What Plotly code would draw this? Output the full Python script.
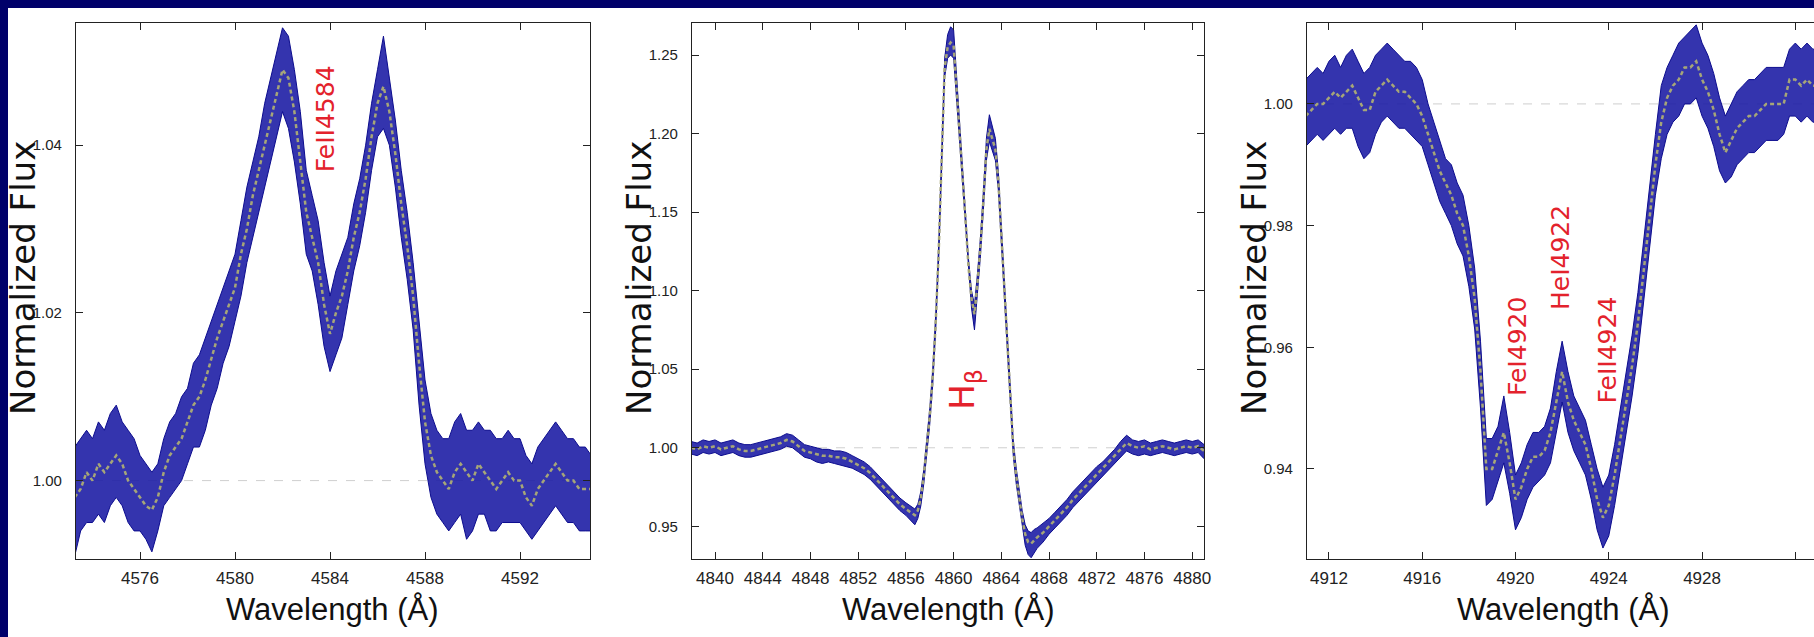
import plotly.graph_objects as go

W, H = 1814, 637

# ---------------- Panel 1 : Fe II 4584 ----------------
wl1 = [4573.25, 4573.5, 4573.75, 4574.0, 4574.25, 4574.5, 4574.75, 4575.0, 4575.25, 4575.5,
       4575.75, 4576.0, 4576.25, 4576.5, 4576.75, 4577.0, 4577.25, 4577.5, 4577.75, 4578.0,
       4578.25, 4578.5, 4578.75, 4579.0, 4579.25, 4579.5, 4579.75, 4580.0, 4580.25, 4580.5,
       4580.75, 4581.0, 4581.25, 4581.5, 4581.75, 4582.0, 4582.25, 4582.5, 4582.75, 4583.0,
       4583.25, 4583.5, 4583.75, 4584.0, 4584.25, 4584.5, 4584.75, 4585.0, 4585.25, 4585.5,
       4585.75, 4586.0, 4586.25, 4586.5, 4586.75, 4587.0, 4587.25, 4587.5, 4587.75, 4588.0,
       4588.25, 4588.5, 4588.75, 4589.0, 4589.25, 4589.5, 4589.75, 4590.0, 4590.25, 4590.5,
       4590.75, 4591.0, 4591.25, 4591.5, 4591.75, 4592.0, 4592.25, 4592.5, 4592.75, 4593.0,
       4593.25, 4593.5, 4593.75, 4594.0, 4594.25, 4594.5, 4594.75, 4595.0]
mean1 = [0.998, 0.999, 1.001, 1.000, 1.002, 1.001, 1.002, 1.003, 1.002, 1.000,
         0.999, 0.998, 0.997, 0.9965, 0.998, 1.001, 1.003, 1.004, 1.005, 1.007,
         1.009, 1.010, 1.012, 1.0145, 1.017, 1.019, 1.021, 1.023, 1.027, 1.030,
         1.034, 1.037, 1.040, 1.043, 1.046, 1.049, 1.048, 1.044, 1.038, 1.032,
         1.029, 1.026, 1.021, 1.0175, 1.020, 1.022, 1.025, 1.029, 1.032, 1.036,
         1.041, 1.045, 1.047, 1.044, 1.039, 1.033, 1.028, 1.022, 1.014, 1.007,
         1.003, 1.001, 1.000, 0.999, 1.001, 1.002, 1.001, 1.000, 1.002, 1.001,
         1.000, 0.999, 1.000, 1.001, 1.000, 1.000, 0.998, 0.997, 0.999, 1.000,
         1.001, 1.002, 1.001, 1.000, 1.000, 0.999, 0.999, 0.999]
lo1 = [0.991, 0.994, 0.995, 0.995, 0.996, 0.995, 0.997, 0.998, 0.997, 0.995,
       0.994, 0.994, 0.993, 0.9915, 0.994, 0.997, 0.998, 0.999, 1.000, 1.002,
       1.004, 1.004, 1.006, 1.009, 1.011, 1.014, 1.016, 1.019, 1.022, 1.026,
       1.029, 1.032, 1.035, 1.038, 1.041, 1.044, 1.042, 1.038, 1.033, 1.027,
       1.025, 1.021, 1.016, 1.013, 1.015, 1.017, 1.021, 1.025, 1.028, 1.032,
       1.037, 1.041, 1.042, 1.040, 1.035, 1.029, 1.024, 1.018, 1.009, 1.002,
       0.998, 0.996, 0.995, 0.994, 0.995, 0.996, 0.993, 0.994, 0.996, 0.996,
       0.994, 0.994, 0.995, 0.995, 0.995, 0.995, 0.994, 0.993, 0.994, 0.995,
       0.996, 0.997, 0.996, 0.995, 0.995, 0.994, 0.994, 0.994]
hi1 = [1.004, 1.005, 1.006, 1.005, 1.007, 1.006, 1.008, 1.009, 1.007, 1.006,
       1.005, 1.003, 1.002, 1.001, 1.002, 1.005, 1.007, 1.008, 1.010, 1.011,
       1.014, 1.015, 1.017, 1.019, 1.021, 1.023, 1.025, 1.027, 1.031, 1.035,
       1.038, 1.041, 1.045, 1.048, 1.051, 1.054, 1.053, 1.049, 1.044, 1.037,
       1.034, 1.031, 1.026, 1.022, 1.025, 1.027, 1.029, 1.033, 1.036, 1.040,
       1.045, 1.049, 1.053, 1.048, 1.043, 1.037, 1.032, 1.026, 1.019, 1.012,
       1.008, 1.006, 1.005, 1.005, 1.007, 1.008, 1.006, 1.006, 1.007, 1.006,
       1.006, 1.005, 1.005, 1.006, 1.005, 1.005, 1.003, 1.002, 1.004, 1.005,
       1.006, 1.007, 1.006, 1.005, 1.005, 1.004, 1.004, 1.003]

# ---------------- Panel 2 : H beta ----------------
wl2 = [4838.0, 4838.5, 4839.0, 4839.5, 4840.0, 4840.5, 4841.0, 4841.5, 4842.0, 4842.5,
       4843.0, 4843.5, 4844.0, 4844.5, 4845.0, 4845.5, 4846.0, 4846.5, 4847.0, 4847.5,
       4848.0, 4848.5, 4849.0, 4849.5, 4850.0, 4850.5, 4851.0, 4851.5, 4852.0, 4852.5,
       4853.0, 4853.5, 4854.0, 4854.5, 4855.0, 4855.5, 4856.0, 4856.5,
       4856.75, 4857.0, 4857.25, 4857.5, 4857.75, 4858.0, 4858.25, 4858.5, 4858.75, 4859.0,
       4859.25, 4859.5, 4859.75, 4860.0, 4860.25, 4860.5, 4860.75, 4861.0, 4861.25, 4861.5,
       4861.75, 4862.0, 4862.25, 4862.5, 4862.75, 4863.0, 4863.25, 4863.5, 4863.75, 4864.0,
       4864.25, 4864.5, 4864.75, 4865.0, 4865.25, 4865.5, 4865.75, 4866.0, 4866.25, 4866.5,
       4866.75, 4867.0,
       4867.5, 4868.0, 4868.5, 4869.0, 4869.5, 4870.0, 4870.5, 4871.0, 4871.5, 4872.0,
       4872.5, 4873.0, 4873.5, 4874.0, 4874.5, 4875.0, 4875.5, 4876.0, 4876.5, 4877.0,
       4877.5, 4878.0, 4878.5, 4879.0, 4879.5, 4880.0, 4880.5, 4881.0]
mean2 = [1.000, 0.999, 1.001, 1.000, 1.001, 0.999, 1.000, 1.001, 0.999, 0.998,
         0.998, 0.999, 1.000, 1.001, 1.002, 1.003, 1.005, 1.004, 1.001, 0.998,
         0.997, 0.996, 0.995, 0.995, 0.994, 0.994, 0.993, 0.991, 0.989, 0.987,
         0.984, 0.980, 0.976, 0.972, 0.968, 0.964, 0.961, 0.958,
         0.957, 0.960, 0.968, 0.982, 1.000, 1.020, 1.045, 1.080, 1.125, 1.185,
         1.242, 1.255, 1.258, 1.256, 1.230, 1.200, 1.173, 1.145, 1.115, 1.095,
         1.085, 1.105, 1.128, 1.158, 1.190, 1.203, 1.197, 1.190, 1.170, 1.137,
         1.106, 1.070, 1.035, 1.000, 0.982, 0.968, 0.955, 0.945, 0.940, 0.939,
         0.941, 0.943,
         0.946, 0.950, 0.954, 0.958, 0.962, 0.967, 0.971, 0.975, 0.979, 0.983,
         0.987, 0.991, 0.995, 0.999, 1.003, 1.001, 1.000, 1.001, 0.999, 1.000,
         1.001, 1.000, 0.999, 1.000, 1.001, 1.000, 1.001, 0.998]
lo2 = [0.996, 0.995, 0.997, 0.996, 0.997, 0.995, 0.996, 0.997, 0.995, 0.994,
       0.994, 0.995, 0.996, 0.997, 0.998, 0.999, 1.001, 1.000, 0.997, 0.994,
       0.993, 0.991, 0.990, 0.991, 0.990, 0.989, 0.988, 0.987, 0.985, 0.983,
       0.980, 0.976, 0.972, 0.968, 0.964, 0.960, 0.957, 0.953,
       0.951, 0.955, 0.963, 0.977, 0.995, 1.015, 1.040, 1.075, 1.120, 1.180,
       1.236, 1.248, 1.250, 1.248, 1.224, 1.195, 1.168, 1.140, 1.110, 1.089,
       1.075, 1.098, 1.122, 1.152, 1.183, 1.195, 1.189, 1.183, 1.164, 1.131,
       1.100, 1.064, 1.029, 0.995, 0.977, 0.963, 0.949, 0.938, 0.932, 0.930,
       0.933, 0.936,
       0.940, 0.945, 0.949, 0.953, 0.957, 0.962, 0.966, 0.970, 0.974, 0.978,
       0.982, 0.986, 0.990, 0.994, 0.998, 0.996, 0.995, 0.996, 0.995, 0.996,
       0.997, 0.996, 0.995, 0.996, 0.997, 0.996, 0.997, 0.993]
hi2 = [1.004, 1.003, 1.005, 1.004, 1.005, 1.003, 1.004, 1.005, 1.003, 1.002,
       1.002, 1.003, 1.004, 1.005, 1.006, 1.007, 1.009, 1.008, 1.005, 1.002,
       1.001, 1.000, 0.999, 0.999, 0.998, 0.998, 0.997, 0.995, 0.993, 0.991,
       0.988, 0.984, 0.980, 0.976, 0.972, 0.968, 0.965, 0.962,
       0.961, 0.964, 0.972, 0.986, 1.005, 1.025, 1.050, 1.085, 1.130, 1.190,
       1.248, 1.263, 1.268, 1.266, 1.237, 1.205, 1.178, 1.150, 1.120, 1.100,
       1.091, 1.111, 1.134, 1.164, 1.197, 1.212, 1.205, 1.197, 1.176, 1.143,
       1.112, 1.076, 1.041, 1.005, 0.987, 0.973, 0.960, 0.951, 0.947, 0.946,
       0.948, 0.949,
       0.952, 0.955, 0.959, 0.963, 0.967, 0.972, 0.976, 0.980, 0.984, 0.988,
       0.991, 0.995, 0.999, 1.004, 1.008, 1.005, 1.004, 1.005, 1.003, 1.004,
       1.005, 1.004, 1.003, 1.004, 1.005, 1.004, 1.005, 1.002]

# ---------------- Panel 3 : Fe I 4920 / He I 4922 / Fe II 4924 ----------------
wl3 = [4911.0, 4911.25, 4911.5, 4911.75, 4912.0, 4912.25, 4912.5, 4912.75, 4913.0, 4913.25,
       4913.5, 4913.75, 4914.0, 4914.25, 4914.5, 4914.75, 4915.0, 4915.25, 4915.5, 4915.75,
       4916.0, 4916.25, 4916.5, 4916.75, 4917.0, 4917.25, 4917.5, 4917.75, 4918.0, 4918.25,
       4918.5, 4918.75, 4919.0, 4919.25, 4919.5, 4919.75, 4920.0, 4920.25, 4920.5, 4920.75,
       4921.0, 4921.25, 4921.5, 4921.75, 4922.0, 4922.25, 4922.5, 4922.75, 4923.0, 4923.25,
       4923.5, 4923.75, 4924.0, 4924.25, 4924.5, 4924.75, 4925.0, 4925.25, 4925.5, 4925.75,
       4926.0, 4926.25, 4926.5, 4926.75, 4927.0, 4927.25, 4927.5, 4927.75, 4928.0, 4928.25,
       4928.5, 4928.75, 4929.0, 4929.25, 4929.5, 4929.75, 4930.0, 4930.25, 4930.5, 4930.75,
       4931.0, 4931.25, 4931.5, 4931.75, 4932.0, 4932.25, 4932.5, 4932.75, 4933.0]
mean3 = [0.998, 0.999, 1.000, 1.000, 1.001, 1.002, 1.001, 1.002, 1.003, 1.001,
         0.999, 0.999, 1.002, 1.003, 1.004, 1.003, 1.002, 1.002, 1.001, 1.000,
         0.998, 0.995, 0.992, 0.989, 0.987, 0.985, 0.982, 0.980, 0.975, 0.968,
         0.956, 0.940, 0.940, 0.943, 0.946, 0.941, 0.935, 0.937, 0.940, 0.942,
         0.942, 0.943, 0.946, 0.951, 0.956, 0.951, 0.948, 0.946, 0.944, 0.940,
         0.935, 0.932, 0.934, 0.939, 0.945, 0.951, 0.957, 0.964, 0.973, 0.981,
         0.990, 0.997, 1.001, 1.003, 1.004, 1.006, 1.006, 1.007, 1.004, 1.002,
         0.999, 0.995, 0.992, 0.994, 0.996, 0.997, 0.998, 0.998, 0.999, 1.000,
         1.000, 1.000, 1.000, 1.004, 1.004, 1.003, 1.004, 1.003, 1.003]
lo3 = [0.993, 0.994, 0.995, 0.994, 0.995, 0.996, 0.995, 0.996, 0.996, 0.993,
       0.991, 0.992, 0.995, 0.997, 0.998, 0.997, 0.996, 0.996, 0.995, 0.994,
       0.993, 0.990, 0.987, 0.984, 0.982, 0.980, 0.977, 0.975, 0.970, 0.963,
       0.950, 0.934, 0.935, 0.938, 0.941, 0.936, 0.930, 0.932, 0.935, 0.937,
       0.938, 0.939, 0.941, 0.946, 0.951, 0.946, 0.943, 0.941, 0.939, 0.935,
       0.930, 0.927, 0.929, 0.934, 0.940, 0.946, 0.952, 0.959, 0.968, 0.976,
       0.985, 0.991, 0.995, 0.997, 0.998, 1.000, 1.000, 1.001, 0.998, 0.996,
       0.993, 0.989, 0.987, 0.988, 0.990, 0.991, 0.992, 0.992, 0.993, 0.994,
       0.994, 0.994, 0.995, 0.998, 0.998, 0.997, 0.998, 0.997, 0.997]
hi3 = [1.004, 1.005, 1.006, 1.005, 1.007, 1.008, 1.006, 1.008, 1.009, 1.007,
       1.005, 1.006, 1.008, 1.009, 1.010, 1.009, 1.008, 1.007, 1.007, 1.006,
       1.004, 1.000, 0.997, 0.994, 0.991, 0.990, 0.987, 0.985, 0.980, 0.973,
       0.961, 0.945, 0.945, 0.947, 0.952, 0.946, 0.939, 0.941, 0.944, 0.946,
       0.946, 0.947, 0.950, 0.956, 0.961, 0.956, 0.952, 0.950, 0.948, 0.944,
       0.940, 0.937, 0.939, 0.944, 0.950, 0.956, 0.962, 0.969, 0.978, 0.986,
       0.995, 1.003, 1.006, 1.008, 1.010, 1.011, 1.012, 1.013, 1.010, 1.008,
       1.005, 1.001, 0.998, 1.000, 1.002, 1.003, 1.004, 1.004, 1.005, 1.006,
       1.006, 1.006, 1.006, 1.009, 1.010, 1.009, 1.010, 1.009, 1.009]

# line identifications: (text, wavelength, flux)
labels1 = [("FeII4584", 4583.79, 1.0431)]
labels2 = [("H<sub>β</sub>", 4860.96, 1.037)]
labels3 = [("FeI4920", 4920.08, 0.9601), ("HeI4922", 4921.90, 0.9748), ("FeII4924", 4923.93, 0.9595)]

# --------------- style ---------------
NAVY = "#00006a"
BAND = "rgba(30,30,165,0.9)"
EDGE = "#0c0c8e"
MEANC = "#a6a678"
RED = "#e3222c"
AXC = "#222222"
SANS = "Liberation Sans, Arial, sans-serif"
WIDE = "DejaVu Sans, Liberation Sans, sans-serif"

def px(v):
    return v / W

y_dom = [(H - 559) / H, (H - 23) / H]

panels = [
    dict(wl=wl1, m=mean1, lo=lo1, hi=hi1, xr=[4573.305, 4594.947], yr=[0.99065, 1.05457],
         x0=76, x1=590, xt0=4576, yt0=1.00, ydt=0.02, labels=labels1, lsize=25, mirror="ticks"),
    dict(wl=wl2, m=mean2, lo=lo2, hi=hi2, xr=[4838.07, 4880.99], yr=[0.9292, 1.2704],
         x0=692, x1=1204, xt0=4840, yt0=0.95, ydt=0.05, labels=labels2, lsize=34, mirror="ticks"),
    dict(wl=wl3, m=mean3, lo=lo3, hi=hi3, xr=[4911.06, 4932.80], yr=[0.9252, 1.0133],
         x0=1307, x1=1814, xt0=4912, yt0=0.94, ydt=0.02, labels=labels3, lsize=25, mirror=False),
]

for p in panels:
    assert len(p["wl"]) == len(p["m"]) == len(p["lo"]) == len(p["hi"]), len(p["wl"])

fig = go.Figure()
annotations = []
shapes = []

for i, p in enumerate(panels, start=1):
    xa = "x" if i == 1 else f"x{i}"
    ya = "y" if i == 1 else f"y{i}"
    # continuum level
    shapes.append(dict(type="line", xref=f"{xa} domain", yref=ya, x0=0, x1=1, y0=1.0, y1=1.0,
                       line=dict(color="#cfcfcf", width=1, dash="dash"), layer="below"))
    fig.add_trace(go.Scatter(x=p["wl"], y=p["lo"], mode="lines", xaxis=xa, yaxis=ya,
                             line=dict(color=EDGE, width=1), showlegend=False, hoverinfo="skip"))
    fig.add_trace(go.Scatter(x=p["wl"], y=p["hi"], mode="lines", xaxis=xa, yaxis=ya, fill="tonexty",
                             fillcolor=BAND, line=dict(color=EDGE, width=1), showlegend=False,
                             hoverinfo="skip"))
    fig.add_trace(go.Scatter(x=p["wl"], y=p["m"], mode="lines", xaxis=xa, yaxis=ya,
                             line=dict(color=MEANC, width=2.5, dash="4px,3px"), showlegend=False))

    axis_common = dict(showline=True, linecolor=AXC, linewidth=1.3, ticks="inside", ticklen=7,
                       tickwidth=1.2, tickcolor=AXC, showgrid=False, zeroline=False)
    fig.layout[("xaxis" if i == 1 else f"xaxis{i}")] = dict(
        **axis_common, domain=[px(p["x0"]), px(p["x1"])], range=p["xr"], anchor=ya,
        tick0=p["xt0"], dtick=4, mirror="ticks",
        tickfont=dict(family=SANS, size=17, color=AXC), ticklabelstandoff=3)
    fig.layout[("yaxis" if i == 1 else f"yaxis{i}")] = dict(
        **axis_common, domain=y_dom, range=p["yr"], anchor=xa, tick0=p["yt0"], dtick=p["ydt"],
        tickformat=".2f", mirror=p["mirror"],
        tickfont=dict(family=SANS, size=15, color=AXC), ticklabelstandoff=10)

    # axis titles
    annotations.append(dict(text="Normalized Flux", xref="paper", yref="paper",
                            x=px(p["x0"] - 53), y=(H - 278) / H, textangle=-90, showarrow=False,
                            xanchor="center", yanchor="middle",
                            font=dict(family=WIDE, size=34, color="#111111")))
    annotations.append(dict(text="Wavelength (Å)", xref="paper", yref="paper",
                            x=px((p["x0"] + p["x0"] + 512) / 2), y=(H - 609) / H, showarrow=False,
                            xanchor="center", yanchor="middle",
                            font=dict(family=SANS, size=31, color="#111111")))
    for txt, lx, ly in p["labels"]:
        annotations.append(dict(text=txt, xref=xa, yref=ya, x=lx, y=ly, textangle=-90,
                                showarrow=False, xanchor="center", yanchor="middle",
                                font=dict(family=WIDE, size=p["lsize"], color=RED)))

# navy presentation frame
shapes.append(dict(type="rect", xref="paper", yref="paper", x0=0, x1=8 / W, y0=0, y1=1,
                   fillcolor=NAVY, line=dict(width=0), layer="above"))
shapes.append(dict(type="rect", xref="paper", yref="paper", x0=0, x1=1, y0=1 - 8 / H, y1=1,
                   fillcolor=NAVY, line=dict(width=0), layer="above"))

fig.update_layout(width=W, height=H, margin=dict(l=0, r=0, t=0, b=0, autoexpand=False),
                  paper_bgcolor="white", plot_bgcolor="white", shapes=shapes,
                  annotations=annotations, showlegend=False)

fig.write_html("out.html")
